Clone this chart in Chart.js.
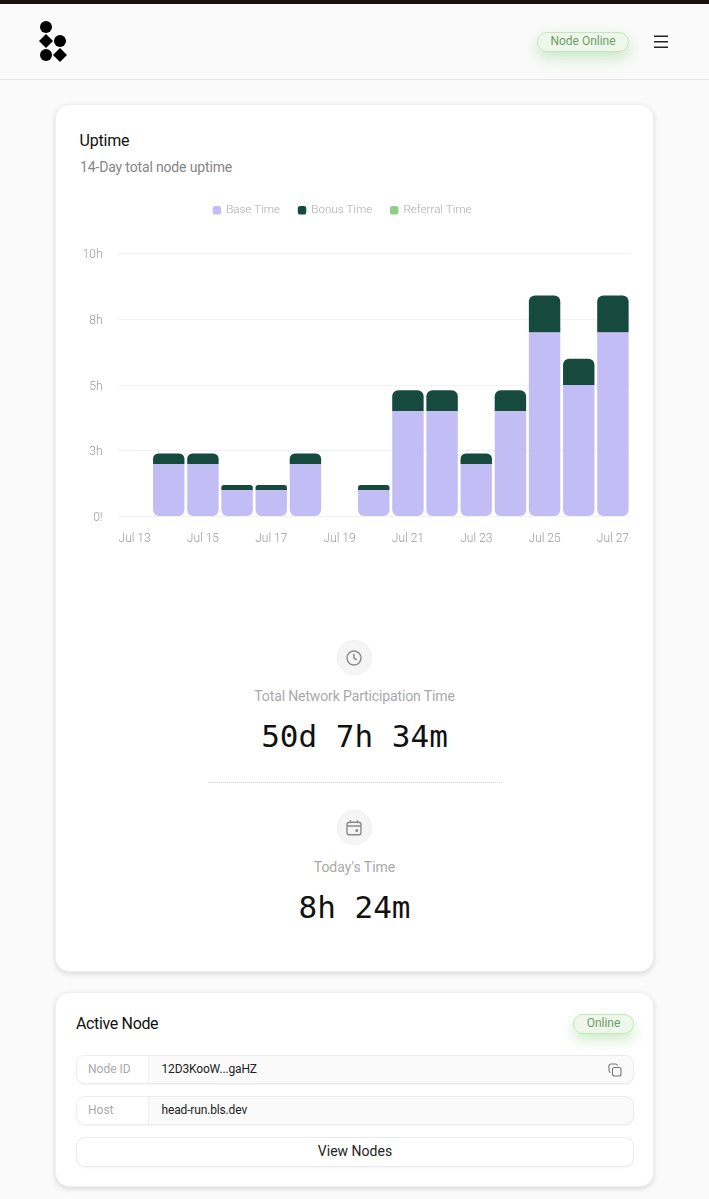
<!DOCTYPE html>
<html>
<head>
<meta charset="utf-8">
<title>Uptime</title>
<script src="https://cdn.jsdelivr.net/npm/chart.js@4/dist/chart.umd.js"></script>
<style>
  html, body { margin: 0; padding: 0; }
  body { width: 709px; height: 1199px; position: relative; overflow: hidden; background: #fafafa; font-family: Roboto, sans-serif; }
  .abs { position: absolute; white-space: nowrap; }
  .center { left: 0; width: 709px; text-align: center; }
  .topbar { left: 0; top: 0; width: 709px; height: 4px; background: #17120e; }
  .header-line { left: 0; top: 79px; width: 709px; height: 1px; background: #e4e4e4; }
  .card { background: #fff; border: 1px solid #eeeeee; border-radius: 14px; box-sizing: border-box; box-shadow: 0 2px 5px rgba(0,0,0,.13); }
  .badge { box-sizing: border-box; height: 20px; line-height: 17px; text-align: center; font-size: 12px; color: #6f9b6b; background: #edf8ea; border: 1px solid #c7e4c1; border-radius: 10px; box-shadow: 0 6px 14px rgba(120,205,110,.38); }
  .circle { width: 35px; height: 35px; left: 337px; border-radius: 50%; background: #f5f5f5; border: 1px solid #f0f0f0; box-sizing: border-box; }
  .grey-label { font-size: 14px; color: #a9a9a9; line-height: 18px; }
  .digital { font-family: "DejaVu Sans Mono", monospace; font-size: 31px; line-height: 36px; color: #111; }
  .row { left: 76px; width: 558px; height: 29px; box-sizing: border-box; background: #fafafa; border: 1px solid #ececec; border-radius: 9px; box-shadow: 0 1px 2px rgba(0,0,0,.05); overflow: hidden; }
  .row .key { position: absolute; left: 0; top: 0; width: 72px; height: 100%; background: #fff; border-right: 1px solid #efefef; color: #a9a9a9; font-size: 12px; line-height: 26px; padding-left: 11px; box-sizing: border-box; }
  .row .val { position: absolute; left: 84.5px; top: 0; color: #222; font-size: 12px; line-height: 26px; letter-spacing: -0.15px; }
  #chartBox { position: absolute; left: 55px; top: 185.5px; width: 575px; height: 364.5px; }
</style>
</head>
<body>
<div class="abs topbar"></div>
<svg class="abs" style="left:38px;top:20px" width="30" height="42" viewBox="0 0 30 42">
  <circle cx="8" cy="7" r="6" fill="#000"/>
  <path d="M8 14 L15 21 L8 28 L1 21 Z" fill="#000"/>
  <circle cx="22" cy="21" r="6" fill="#000"/>
  <circle cx="8" cy="35" r="6" fill="#000"/>
  <path d="M22 28 L29 35 L22 42 L15 35 Z" fill="#000"/>
</svg>
<div class="abs badge" style="left:537px;top:32px;width:92px">Node Online</div>
<svg class="abs" style="left:653px;top:35px" width="16" height="14" viewBox="0 0 16 14">
  <path d="M1 1.2H15M1 6.7H15M1 12.2H15" stroke="#222" stroke-width="1.6"/>
</svg>
<div class="abs header-line"></div>

<div class="abs card" style="left:55px;top:104px;width:599px;height:868px"></div>
<div class="abs" style="left:79.5px;top:131px;font-size:16px;line-height:20px;color:#111;letter-spacing:-0.2px">Uptime</div>
<div class="abs" style="left:80px;top:158px;font-size:14px;line-height:18px;color:#858585;letter-spacing:-0.15px">14-Day total node uptime</div>

<div id="chartBox"><canvas id="barChart"></canvas></div>

<div class="abs circle" style="top:640px"></div>
<svg class="abs" style="left:345px;top:649px" width="18" height="18" viewBox="0 0 18 18" fill="none" stroke="#8a8a8a" stroke-width="1.4">
  <circle cx="9" cy="9" r="7"/><path d="M9 4.8V9L11.8 10.8"/>
</svg>
<div class="abs center grey-label" style="top:687px;letter-spacing:-0.13px">Total Network Participation Time</div>
<div class="abs center digital" style="top:718px">50d 7h 34m</div>
<div class="abs" style="left:208px;top:782px;width:294px;border-top:1px dotted #d8d8d8"></div>
<div class="abs circle" style="top:810px"></div>
<svg class="abs" style="left:345px;top:819px" width="18" height="18" viewBox="0 0 18 18" fill="none" stroke="#8a8a8a" stroke-width="1.4">
  <rect x="2" y="3.2" width="14" height="12.6" rx="2.4"/><path d="M2 7H16M5.5 1.2V4.2M12.5 1.2V4.2"/><circle cx="11.8" cy="11.6" r=".8" fill="#8a8a8a"/>
</svg>
<div class="abs center grey-label" style="top:858px">Today's Time</div>
<div class="abs center digital" style="top:889px">8h 24m</div>

<div class="abs card" style="left:55px;top:992px;width:599px;height:195px"></div>
<div class="abs" style="left:76px;top:1014px;font-size:16px;line-height:20px;color:#111;letter-spacing:-0.35px">Active Node</div>
<div class="abs badge" style="left:573px;top:1014px;width:61px">Online</div>
<div class="abs row" style="top:1055px"><div class="key">Node ID</div><div class="val">12D3KooW...gaHZ</div></div>
<svg class="abs" style="left:608px;top:1063px" width="14" height="14" viewBox="0 0 14 14" fill="none" stroke="#777" stroke-width="1.1">
  <rect x="4.5" y="4.5" width="8.5" height="8.5" rx="2"/><path d="M2.6 9.4C1.6 9.2 1 8.4 1 7.4V3C1 1.9 1.9 1 3 1H7.4C8.4 1 9.2 1.6 9.4 2.6"/>
</svg>
<div class="abs row" style="top:1096px"><div class="key">Host</div><div class="val">head-run.bls.dev</div></div>
<div class="abs row" style="top:1137px;height:30px;background:#fff;text-align:center;font-size:14px;line-height:27px;color:#222">View Nodes</div>

<script>
const days = ['Jul 13', 'Jul 14', 'Jul 15', 'Jul 16', 'Jul 17', 'Jul 18', 'Jul 19', 'Jul 20', 'Jul 21', 'Jul 22', 'Jul 23', 'Jul 24', 'Jul 25', 'Jul 26', 'Jul 27'];
const baseTime = [0, 2, 2, 1, 1, 2, 0, 1, 4, 4, 2, 4, 7, 5, 7];
const bonusTime = [0, 0.4, 0.4, 0.2, 0.2, 0.4, 0, 0.2, 0.8, 0.8, 0.4, 0.8, 1.4, 1, 1.4];
const referralTime = [0, 0, 0, 0, 0, 0, 0, 0, 0, 0, 0, 0, 0, 0, 0];
const yTickLabels = ['0!', '3h', '5h', '8h', '10h'];

const tickFont = { family: 'Roboto', size: 12, weight: '300' };

// Legend takes more room than Chart.js gives it
const legendGap = {
    id: 'legendGap',
    beforeInit(chart) {
        const fit = chart.legend.fit;
        chart.legend.fit = function () {
            fit.call(this);
            this.height = 67.5;
        };
    }
};

const barCtx = document.getElementById('barChart').getContext('2d');
const barChart = new Chart(barCtx, {
    type: 'bar',
    plugins: [legendGap],
    data: {
        labels: days,
        datasets: [
            {
                label: 'Base Time',
                data: baseTime,
                backgroundColor: '#c3bdf6',
                borderSkipped: false,
                borderRadius: { topLeft: 0, topRight: 0, bottomLeft: 6, bottomRight: 6 }
            },
            {
                label: 'Bonus Time',
                data: bonusTime,
                backgroundColor: '#174a3f',
                borderSkipped: false,
                borderRadius: { topLeft: 6, topRight: 6, bottomLeft: 0, bottomRight: 0 }
            },
            {
                label: 'Referral Time',
                data: referralTime,
                backgroundColor: '#8fce85'
            }
        ]
    },
    options: {
        responsive: true,
        maintainAspectRatio: false,
        animation: false,
        datasets: { bar: { categoryPercentage: 1, barPercentage: 0.92 } },
        plugins: {
            legend: {
                labels: {
                    usePointStyle: true,
                    pointStyle: 'rectRounded',
                    boxWidth: 7,
                    boxHeight: 7,
                    padding: 18.5,
                    color: '#ababab',
                    font: { family: 'Roboto', size: 11.6, weight: '300' }
                }
            },
            tooltip: { enabled: false }
        },
        scales: {
            x: {
                stacked: true,
                grid: { display: false, drawTicks: false },
                border: { display: false },
                afterFit(scale) {
                    scale.height = 34;
                    scale.paddingLeft = 0;
                    scale.paddingRight = 0;
                },
                ticks: {
                    autoSkip: false,
                    maxRotation: 0,
                    padding: 15,
                    color: '#9a9a9a',
                    font: tickFont,
                    callback(value, index) {
                        return index % 2 === 0 ? days[index] : '';
                    }
                }
            },
            y: {
                stacked: true,
                min: 0,
                max: 10,
                afterFit(scale) { scale.width = 62.5; },
                grid: { color: '#f2f2f2', drawTicks: false },
                border: { display: false },
                ticks: {
                    stepSize: 2.5,
                    padding: 15,
                    labelOffset: 1.5,
                    color: '#9a9a9a',
                    font: tickFont,
                    callback(value, index) {
                        return yTickLabels[index];
                    }
                }
            }
        }
    }
});
</script>
</body>
</html>
